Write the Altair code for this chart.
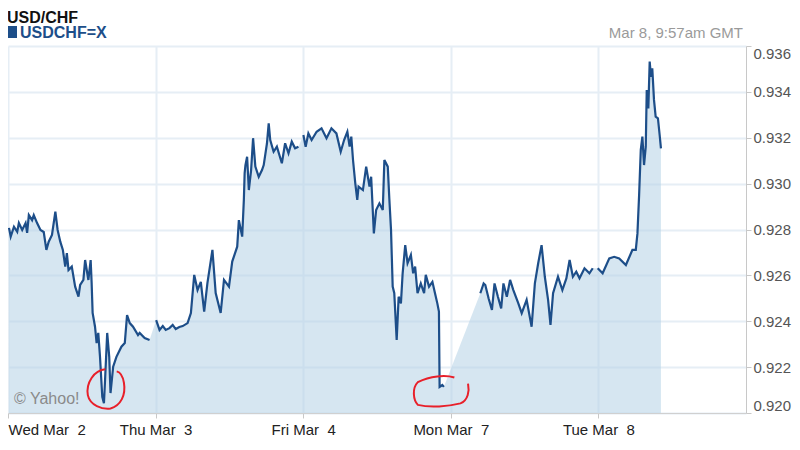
import json
import altair as alt
import pandas as pd

# ---- data: hours since Wed Mar 2 00:00 GMT on a trading-day axis (5 days = 120 h) ----
wed_h = [0.16, 0.44, 0.97, 1.50, 1.77, 2.31, 2.86, 3.11, 3.39, 3.92, 4.19, 4.73, 5.28, 5.81,
         6.24, 6.62, 7.15, 7.70, 8.07, 8.50, 8.92, 9.31, 9.57, 9.84, 10.37, 10.92, 11.46, 11.73,
         12.26, 12.54, 13.07, 13.44, 13.60, 13.76, 14.15, 14.41, 14.68, 14.96, 15.33, 15.60,
         15.76, 16.13, 16.46, 16.67, 17.10, 17.63, 18.44, 18.99, 19.36, 19.80, 20.33, 21.14,
         21.41, 22.22, 23.02]
wed_p = [0.92807, 0.92769, 0.92812, 0.92790, 0.92828, 0.92798, 0.92828, 0.92785, 0.92863,
         0.92841, 0.92863, 0.92828, 0.92798, 0.92789, 0.92711, 0.92747, 0.92776, 0.92878,
         0.92798, 0.92747, 0.92711, 0.92638, 0.92697, 0.92623, 0.92638, 0.92551, 0.92507,
         0.92558, 0.92580, 0.92667, 0.92580, 0.92667, 0.92567, 0.92436, 0.92376, 0.92305,
         0.92349, 0.92245, 0.92071, 0.92043, 0.92131, 0.92349, 0.92245, 0.92087, 0.92202,
         0.92245, 0.92289, 0.92305, 0.92427, 0.92392, 0.92376, 0.92340, 0.92349, 0.92327,
         0.92318]

thu_h = [24.09, 24.64, 25.17, 25.65, 26.25, 26.78, 27.27, 27.86, 28.40, 29.20, 29.74, 30.28,
         30.82, 31.35, 31.90, 32.43, 33.24, 33.77, 34.58, 35.12, 35.93, 36.46, 37.27, 37.54,
         38.08, 38.35, 38.48, 38.61, 38.88, 39.16, 39.53, 39.85, 40.22, 40.77, 41.30, 41.58,
         42.11, 42.39, 42.64, 43.19, 43.72, 44.53, 45.06, 45.61, 46.14, 46.68, 47.23]
thu_p = [0.92405, 0.92362, 0.92379, 0.92362, 0.92370, 0.92384, 0.92366, 0.92375, 0.92379,
         0.92392, 0.92436, 0.92602, 0.92536, 0.92572, 0.92442, 0.92567, 0.92711, 0.92523,
         0.92436, 0.92580, 0.92551, 0.92660, 0.92725, 0.92841, 0.92769, 0.92929, 0.93046,
         0.93081, 0.93117, 0.92972, 0.93059, 0.93198, 0.93074, 0.93030, 0.93059, 0.93081,
         0.93176, 0.93263, 0.93190, 0.93139, 0.93161, 0.93089, 0.93176, 0.93132, 0.93183,
         0.93154, 0.93161]

fri_h = [48.03, 48.40, 48.84, 49.37, 50.18, 50.98, 51.79, 52.59, 53.40, 54.10, 54.65, 55.18,
         55.55, 55.82, 56.10, 56.47, 56.79, 57.00, 57.71, 58.24, 58.78, 59.05, 59.49, 59.86,
         60.39, 60.94, 61.20, 61.75, 62.00, 62.28, 62.55, 62.81, 63.20, 63.52, 63.89, 64.17,
         64.59, 64.97, 65.51, 65.88, 66.20, 66.59, 67.12, 67.66, 67.93, 68.46, 69.01, 69.43,
         69.81, 70.07, 70.18, 70.62, 70.88]
fri_p = [0.93212, 0.93161, 0.93219, 0.93190, 0.93226, 0.93241, 0.93198, 0.93241, 0.93219,
         0.93139, 0.93190, 0.93226, 0.93161, 0.93205, 0.93103, 0.93001, 0.92929, 0.92987,
         0.92972, 0.93074, 0.92987, 0.93030, 0.92783, 0.92885, 0.92914, 0.92885, 0.93103,
         0.93074, 0.92936, 0.92798, 0.92551, 0.92522, 0.92318, 0.92507, 0.92478, 0.92609,
         0.92732, 0.92653, 0.92689, 0.92609, 0.92638, 0.92522, 0.92565, 0.92522, 0.92602,
         0.92551, 0.92572, 0.92522, 0.92478, 0.92442, 0.92114, 0.92122, 0.92114]

mon_h = [76.80, 77.34, 77.61, 78.14, 78.69, 79.11, 79.66, 80.19, 80.56, 81.11, 81.64, 82.17,
         82.98, 83.53, 84.33, 85.14, 85.67, 86.21, 86.76, 87.29, 87.82, 88.21, 88.63, 89.43,
         90.14, 90.79, 91.32, 91.85, 92.40, 92.93, 93.74, 94.54, 95.08]
mon_p = [0.92522, 0.92565, 0.92558, 0.92500, 0.92449, 0.92565, 0.92507, 0.92456, 0.92565,
         0.92507, 0.92580, 0.92536, 0.92478, 0.92435, 0.92493, 0.92376, 0.92565, 0.92653,
         0.92732, 0.92594, 0.92493, 0.92384, 0.92522, 0.92594, 0.92536, 0.92587, 0.92667,
         0.92594, 0.92616, 0.92587, 0.92631, 0.92609, 0.92631]

tue_h = [95.89, 96.69, 97.77, 98.57, 99.38, 100.47, 101.53, 102.08, 102.35, 102.62, 102.89,
         103.15, 103.42, 103.70, 103.86, 104.12, 104.34, 104.55, 104.76, 105.04, 105.31,
         105.68, 105.96, 106.17]
tue_p = [0.92631, 0.92609, 0.92674, 0.92681, 0.92674, 0.92645, 0.92711, 0.92711, 0.92783,
         0.92950, 0.93147, 0.93205, 0.93081, 0.93161, 0.93408, 0.93328, 0.93532, 0.93466,
         0.93503, 0.93365, 0.93292, 0.93285, 0.93212, 0.93154]

day_ticks = [0, 24, 48, 72, 96]
day_labels = ["Wed Mar\u00a0\u00a02", "Thu Mar\u00a0\u00a03", "Fri Mar\u00a0\u00a04",
              "Mon Mar\u00a0\u00a07", "Tue Mar\u00a0\u00a08"]
price_ticks = [0.920, 0.922, 0.924, 0.926, 0.928, 0.930, 0.932, 0.934, 0.936]
price_floor = 0.920

# hand-drawn red marks around the two lows
circle_h = [16.0, 70.6]
circle_p = [0.92105, 0.92095]
circle_shape = ["round", "flat"]

# ---- build table ----
rows = []
for seg, (hs, ps) in enumerate([(wed_h, wed_p), (thu_h, thu_p), (fri_h, fri_p),
                                (mon_h, mon_p), (tue_h, tue_p)]):
    for h, p in zip(hs, ps):
        rows.append({"h": h, "p": p, "seg": seg, "base": price_floor})
df = pd.DataFrame(rows)
circles = pd.DataFrame({"h": circle_h, "p": circle_p, "kind": circle_shape})

FONT = "Liberation Sans"
BLUE = "#1d4e89"

label_expr = json.dumps(day_labels) + "[round(datum.value/24)]"

x = alt.X("h:Q", scale=alt.Scale(domain=[0, 120], nice=False),
          axis=alt.Axis(values=day_ticks, labelExpr=label_expr, title=None,
                        grid=True, gridColor="#e6eef5", gridWidth=2,
                        domainColor="#d0d0d0", tickColor="#c8c8c8", tickSize=5,
                        labelFlush=True, labelFontSize=15, labelColor="#222222",
                        labelFont=FONT, labelPadding=4))
y = alt.Y("p:Q", scale=alt.Scale(domain=[0.920, 0.936], nice=False, zero=False),
          axis=alt.Axis(orient="right", values=price_ticks, format=".3f", title=None,
                        grid=True, gridColor="#e6eef5", gridWidth=2,
                        domainColor="#c8c8c8", tickColor="#c8c8c8", tickSize=5,
                        labelFlush=True, labelFontSize=15, labelColor="#555555",
                        labelFont=FONT, labelPadding=2))

area = alt.Chart(df).mark_area(color="#b4d2e6", opacity=0.55, line=False).encode(
    x=x, y=y, y2="base:Q")

line = alt.Chart(df).mark_line(color=BLUE, strokeWidth=2.2).encode(
    x="h:Q", y="p:Q", detail="seg:N")

round_path = "M -0.05 -0.95 C -0.6 -0.9 -1 -0.3 -0.9 0.3 C -0.8 0.8 -0.2 1 0.2 0.95 C 0.7 0.8 0.95 0.3 0.85 -0.3 C 0.8 -0.6 0.7 -0.8 0.5 -0.85"
flat_path = "M 0.4 -0.45 C 0.1 -0.55 -0.4 -0.5 -0.8 -0.3 C -1 -0.1 -0.95 0.3 -0.8 0.45 C -0.4 0.55 0.2 0.5 0.6 0.4 C 0.85 0.3 0.9 0 0.85 -0.25"

red1 = alt.Chart(circles[circles.kind == "round"]).mark_point(
    shape=round_path, size=1700, stroke="#e8202a", strokeWidth=2, filled=False, opacity=1
).encode(x="h:Q", y="p:Q")
red2 = alt.Chart(circles[circles.kind == "flat"]).mark_point(
    shape=flat_path, size=3700, stroke="#e8202a", strokeWidth=2, filled=False, opacity=1
).encode(x="h:Q", y="p:Q")

one = pd.DataFrame({"a": [0]})
title = alt.Chart(one).mark_text(text="USD/CHF", font=FONT, fontSize=16, fontWeight="bold",
                                 color="#111111", align="left", baseline="alphabetic").encode(
    x=alt.value(-1), y=alt.value(-23))
sq = alt.Chart(one).mark_rect(color=BLUE).encode(
    x=alt.value(0), x2=alt.value(9), y=alt.value(-20), y2=alt.value(-8))
series = alt.Chart(one).mark_text(text="USDCHF=X", font=FONT, fontSize=16, fontWeight="bold",
                                  color=BLUE, align="left", baseline="alphabetic").encode(
    x=alt.value(12), y=alt.value(-8))
stamp = alt.Chart(one).mark_text(text="Mar 8, 9:57am GMT", font=FONT, fontSize=15,
                                 color="#9a9a9a", align="right", baseline="alphabetic").encode(
    x=alt.value(735), y=alt.value(-8))
credit = alt.Chart(one).mark_text(text="\u00a9 Yahoo!", font=FONT, fontSize=16,
                                  color="#8a8a8a", align="left", baseline="alphabetic").encode(
    x=alt.value(6), y=alt.value(358))

chart = alt.layer(area, line, red1, red2, title, sq, series, stamp, credit).properties(
    width=738, height=367,
    autosize=alt.AutoSizeParams(type="none"),
    padding={"left": 0, "top": 38, "right": 46, "bottom": 29},
    background="white",
).configure_view(stroke=None)

chart.save("out.html", embed_options={"renderer": "svg", "actions": False})
